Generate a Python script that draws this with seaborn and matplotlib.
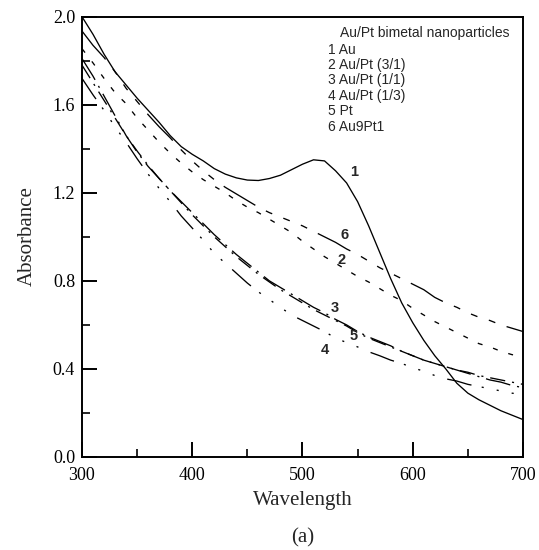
import matplotlib
matplotlib.use("Agg")
import matplotlib.pyplot as plt
import numpy as np
import pandas as pd
import seaborn as sns
from matplotlib.ticker import MultipleLocator, FormatStrFormatter

# ---------------- data ----------------
wavelength = list(range(300, 701, 10))

abs_au = [2.00, 1.92, 1.83, 1.75, 1.69, 1.63, 1.575, 1.52, 1.46, 1.41,
          1.375, 1.345, 1.31, 1.285, 1.268, 1.258, 1.256, 1.265, 1.28, 1.305,
          1.33, 1.35, 1.345, 1.30, 1.245, 1.16, 1.05, 0.93, 0.81, 0.70,
          0.61, 0.53, 0.46, 0.40, 0.335, 0.29, 0.26, 0.235, 0.21, 0.19, 0.17]

abs_au3pt1 = [1.855, 1.79, 1.72, 1.655, 1.605, 1.54, 1.485, 1.43, 1.38, 1.335,
              1.295, 1.26, 1.23, 1.20, 1.165, 1.135, 1.11, 1.08, 1.05, 1.02,
              0.98, 0.945, 0.91, 0.88, 0.85, 0.82, 0.795, 0.765, 0.735, 0.71,
              0.675, 0.645, 0.615, 0.59, 0.565, 0.54, 0.515, 0.50, 0.48, 0.465, 0.455]

abs_au1pt1 = [1.81, 1.73, 1.64, 1.55, 1.46, 1.385, 1.32, 1.265, 1.21, 1.16,
              1.11, 1.06, 1.01, 0.965, 0.92, 0.88, 0.84, 0.80, 0.77, 0.74,
              0.71, 0.68, 0.655, 0.625, 0.60, 0.57, 0.545, 0.525, 0.505, 0.48,
              0.46, 0.44, 0.425, 0.41, 0.395, 0.38, 0.365, 0.35, 0.34, 0.325, 0.315]

abs_au1pt3 = [1.72, 1.645, 1.575, 1.50, 1.43, 1.355, 1.285, 1.22, 1.16, 1.095,
              1.04, 0.985, 0.925, 0.88, 0.835, 0.79, 0.75, 0.715, 0.68, 0.645,
              0.62, 0.595, 0.57, 0.54, 0.52, 0.50, 0.478, 0.46, 0.44, 0.425,
              0.405, 0.39, 0.37, 0.355, 0.345, 0.33, 0.32, 0.31, 0.30, 0.29, 0.283]

abs_pt = [1.78, 1.70, 1.62, 1.54, 1.46, 1.39, 1.325, 1.265, 1.21, 1.155,
          1.10, 1.05, 1.00, 0.955, 0.91, 0.87, 0.83, 0.795, 0.76, 0.73,
          0.70, 0.67, 0.645, 0.62, 0.595, 0.565, 0.54, 0.52, 0.50, 0.48,
          0.46, 0.44, 0.425, 0.41, 0.395, 0.385, 0.37, 0.36, 0.35, 0.34, 0.33]

abs_au9pt1 = [1.935, 1.87, 1.815, 1.75, 1.675, 1.615, 1.555, 1.50, 1.45, 1.395,
              1.345, 1.30, 1.26, 1.225, 1.195, 1.165, 1.135, 1.11, 1.09, 1.07,
              1.05, 1.025, 1.00, 0.975, 0.945, 0.92, 0.89, 0.86, 0.835, 0.81,
              0.785, 0.76, 0.725, 0.70, 0.68, 0.655, 0.635, 0.62, 0.60, 0.585, 0.57]

curve_ids = ["1", "2", "3", "4", "5", "6"]
legend_title = "Au/Pt bimetal nanoparticles"
legend_items = ["1 Au", "2 Au/Pt (3/1)", "3 Au/Pt (1/1)", "4 Au/Pt (1/3)", "5 Pt", "6 Au9Pt1"]
x_ticks = [300, 400, 500, 600, 700]
y_ticks = [0.0, 0.4, 0.8, 1.2, 1.6, 2.0]
x_label = "Wavelength"
y_label = "Absorbance"
caption = "(a)"

series = {"1": abs_au, "2": abs_au3pt1, "3": abs_au1pt1,
          "4": abs_au1pt3, "5": abs_pt, "6": abs_au9pt1}

df = pd.concat([pd.DataFrame({"Wavelength": wavelength, "Absorbance": v, "curve": k})
                for k, v in series.items()], ignore_index=True)

# ---------------- style ----------------
sns.set_style("ticks")
plt.rcParams["lines.scale_dashes"] = False
plt.rcParams["font.family"] = ["Liberation Serif", "DejaVu Serif"]

dash_styles = {
    "1": "",
    "2": (3.6, 8.0),
    "3": (18, 5, 1.5, 5),
    "4": (18, 7.5, 1.5, 9.5, 1.5, 9.5, 1.5, 9.5),
    "5": (11, 5, 1.5, 5),
    "6": (26.6, 8.6, 5, 8.6, 5, 8.6, 5, 8.6),
}

fig = plt.figure(figsize=(5.39, 5.5), dpi=100)
ax = fig.add_axes([0.1521, 0.1691, 0.8182, 0.8005])

sns.lineplot(data=df, x="Wavelength", y="Absorbance", hue="curve", style="curve",
             palette={k: "black" for k in curve_ids}, dashes=dash_styles,
             linewidth=0.95, legend=False, estimator=None, sort=False, ax=ax)

ax.set_xlim(300, 700)
ax.set_ylim(0, 2.0)
ax.set_xticks(x_ticks)
ax.set_yticks(y_ticks)
ax.xaxis.set_minor_locator(MultipleLocator(50))
ax.yaxis.set_minor_locator(MultipleLocator(0.2))
ax.yaxis.set_major_formatter(FormatStrFormatter("%.1f"))
ax.set_xlabel("")
ax.set_ylabel("")

for s in ax.spines.values():
    s.set_visible(True)
    s.set_linewidth(1.4)
    s.set_color("black")

ax.tick_params(which="major", direction="in", length=10.5, width=1.4,
               labelsize=13, color="black", labelcolor="black")
ax.tick_params(which="minor", direction="in", length=5.5, width=1.2, color="black")
ax.tick_params(axis="x", which="major", pad=7)
ax.tick_params(axis="y", which="major", pad=5)
ax.tick_params(top=False, right=False, which="both")

serif = ["Liberation Serif", "DejaVu Serif"]
fig.text(303 / 539, 1 - 501 / 550, x_label, ha="center", va="center", fontsize=15, family=serif)
fig.text(27 / 539, 1 - 236 / 550, y_label, ha="center", va="center", fontsize=15,
         rotation=90, family=serif)
fig.text(303 / 539, 1 - 538 / 550, caption, ha="center", va="center", fontsize=15, family=serif)

# in-plot legend text block
sans = ["Liberation Sans", "DejaVu Sans"]
ax.text(0.585, 0.962, legend_title, transform=ax.transAxes, ha="left", va="center",
        fontsize=10, family=sans)
for i, item in enumerate(legend_items):
    ax.text(0.5585, (457 - (49.5 + 15.4 * i)) / 440.3, item, transform=ax.transAxes,
            ha="left", va="center", fontsize=10, family=sans)

# curve number labels
label_pos = {"1": (547, 1.295), "6": (538, 1.008), "2": (535, 0.895),
             "3": (529, 0.675), "5": (546, 0.55), "4": (520, 0.486)}
for k in curve_ids:
    x, y = label_pos[k]
    ax.text(x, y, k, ha="center", va="center", fontsize=10.5, fontweight="bold", family=sans)

fig.savefig("out.png", dpi=100)
